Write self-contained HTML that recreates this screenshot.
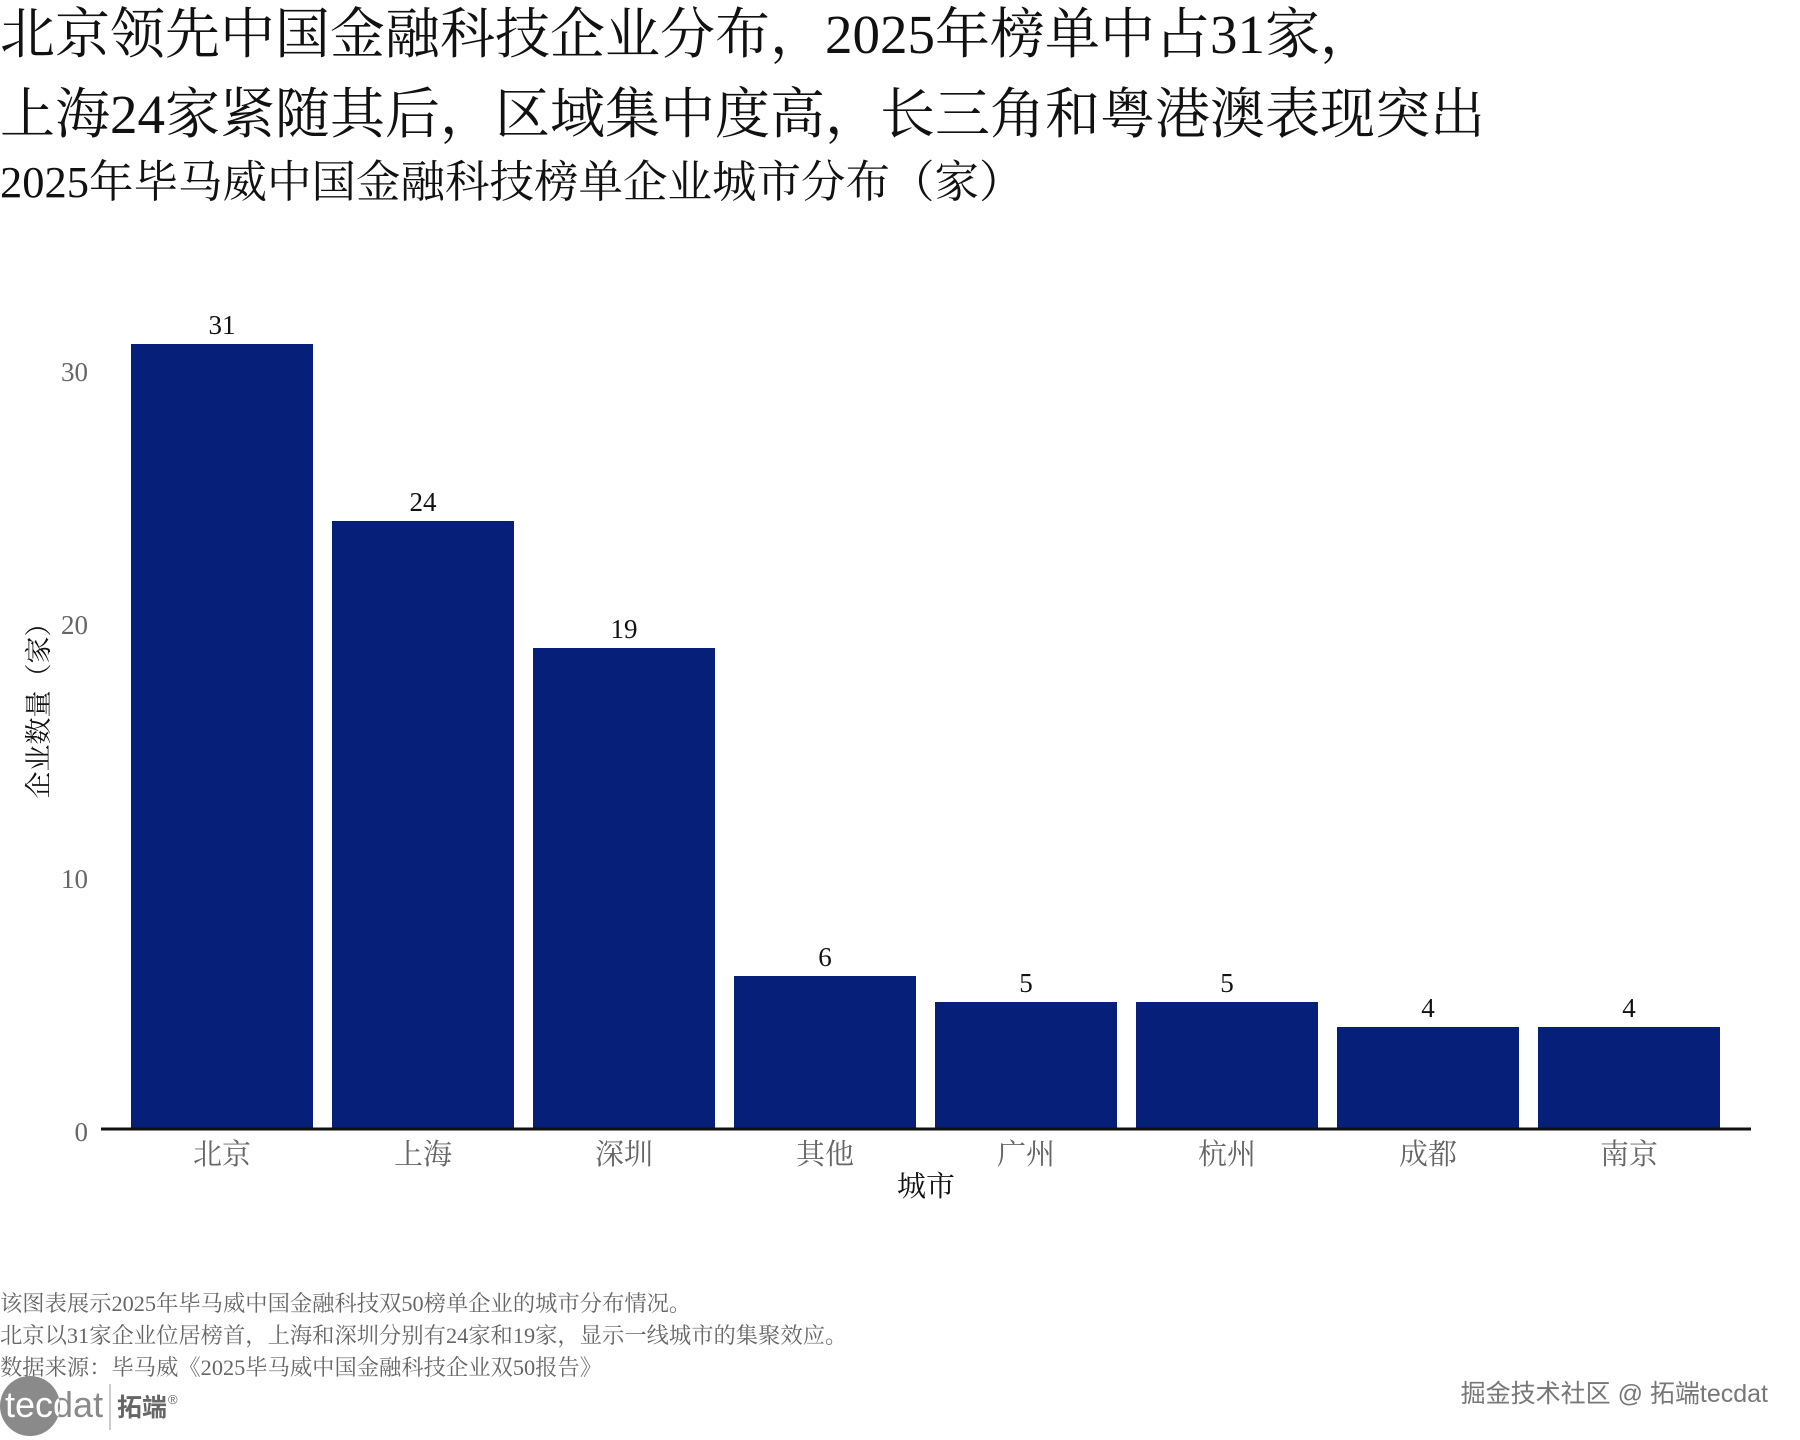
<!DOCTYPE html>
<html><head><meta charset="utf-8"><style>
html,body{margin:0;padding:0;background:#fff;}
svg{display:block;}
</style></head><body>
<svg width="1800" height="1440" viewBox="0 0 1800 1440" xmlns="http://www.w3.org/2000/svg">
<g font-family="'Liberation Serif','Noto Serif CJK SC',serif">
<text x="0" y="53" font-size="55" fill="#111">北京领先中国金融科技企业分布，2025年榜单中占31家，</text>
<text x="0" y="133" font-size="55" fill="#111">上海24家紧随其后，区域集中度高，长三角和粤港澳表现突出</text>
<text x="0" y="197" font-size="44.5" fill="#111">2025年毕马威中国金融科技榜单企业城市分布（家）</text>

<g fill="#061f78">
<rect x="131" y="344" width="182" height="784"/>
<rect x="332" y="521" width="182" height="607"/>
<rect x="533" y="648" width="182" height="480"/>
<rect x="734" y="976" width="182" height="152"/>
<rect x="935" y="1002" width="182" height="126"/>
<rect x="1136" y="1002" width="182" height="126"/>
<rect x="1337" y="1027" width="182" height="101"/>
<rect x="1538" y="1027" width="182" height="101"/>
</g>
<line x1="101" y1="1129" x2="1751" y2="1129" stroke="#111" stroke-width="3"/>

<g font-size="27" fill="#666" text-anchor="end">
<text x="88" y="381">30</text>
<text x="88" y="888">10</text>
<text x="88" y="634">20</text>
<text x="88" y="1141">0</text>
</g>
<g font-size="27" fill="#111" text-anchor="middle">
<text x="222" y="334">31</text>
<text x="423" y="511">24</text>
<text x="624" y="638">19</text>
<text x="825" y="966">6</text>
<text x="1026" y="992">5</text>
<text x="1227" y="992">5</text>
<text x="1428" y="1017">4</text>
<text x="1629" y="1017">4</text>
</g>
<g font-size="29" fill="#666" text-anchor="middle">
<text x="222" y="1164">北京</text>
<text x="423" y="1164">上海</text>
<text x="624" y="1164">深圳</text>
<text x="825" y="1164">其他</text>
<text x="1026" y="1164">广州</text>
<text x="1227" y="1164">杭州</text>
<text x="1428" y="1164">成都</text>
<text x="1629" y="1164">南京</text>
</g>
<text x="926" y="1196" font-size="29" fill="#111" text-anchor="middle">城市</text>
<text transform="translate(48,704) rotate(-90)" font-size="27" fill="#111" text-anchor="middle">企业数量（家）</text>

<g font-size="22.3" fill="#666">
<text x="0" y="1311">该图表展示2025年毕马威中国金融科技双50榜单企业的城市分布情况。</text>
<text x="0" y="1343">北京以31家企业位居榜首，上海和深圳分别有24家和19家，显示一线城市的集聚效应。</text>
<text x="0" y="1375">数据来源：毕马威《2025毕马威中国金融科技企业双50报告》</text>
</g>
</g>
<text x="1768" y="1402" font-family="'Liberation Sans','Noto Sans CJK SC',sans-serif" font-size="25" fill="#777" text-anchor="end">掘金技术社区 @ 拓端tecdat</text>
<defs><clipPath id="c"><circle cx="30" cy="1406" r="30"/></clipPath></defs>
<circle cx="30" cy="1406" r="30" fill="#8a8a8a"/>
<text x="5" y="1417" font-family="'Liberation Sans',sans-serif" font-size="36" fill="#8a8a8a">tecdat</text>
<text x="5" y="1417" font-family="'Liberation Sans',sans-serif" font-size="36" fill="#fff" clip-path="url(#c)">tecdat</text>
<line x1="110" y1="1384" x2="110" y2="1430" stroke="#bbb" stroke-width="1.5"/>
<text x="117" y="1416" font-family="'Noto Sans CJK SC',sans-serif" font-size="25" font-weight="bold" fill="#666">拓端</text>
<text x="168" y="1404" font-family="'Liberation Sans',sans-serif" font-size="13" fill="#666">®</text>
</svg>
</body></html>
